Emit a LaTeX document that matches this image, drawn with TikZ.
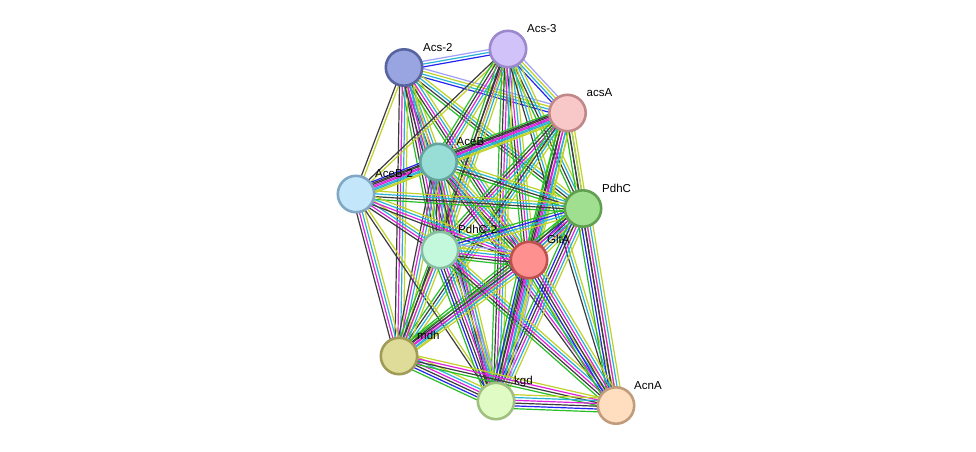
\documentclass[tikz,border=0pt]{standalone}
\usepackage{fontspec}
\setmainfont{Liberation Sans}
\usetikzlibrary{calc}
\definecolor{cT}{RGB}{192,210,40}
\definecolor{cK}{RGB}{60,60,60}
\definecolor{cD}{RGB}{40,178,212}
\definecolor{cE}{RGB}{222,34,222}
\definecolor{cN}{RGB}{40,190,40}
\definecolor{cO}{RGB}{36,36,240}
\definecolor{cH}{RGB}{160,160,248}
\tikzset{
  ln/.style={line width=1.2pt},
  eT/.style={ln,draw=cT}, eK/.style={ln,draw=cK}, eD/.style={ln,draw=cD},
  eE/.style={ln,draw=cE}, eN/.style={ln,draw=cN}, eO/.style={ln,draw=cO},
  eH/.style={ln,draw=cH},
  prot/.style={circle, minimum size=36.4pt, inner sep=0pt, line width=2.6pt},
  lbl/.style={anchor=base west, inner sep=0pt, font=\fontsize{11.5}{13}\selectfont}
}
\newcommand\edg[3]{%
  \xdef\ednn{0}%
  \foreach \ecol in {#3}{\xdef\ednn{\the\numexpr\ednn+1\relax}}%
  \foreach \ecol [count=\ei] in {#3}{%
    \pgfmathsetmacro\edoff{(\ei-(\ednn+1)/2)*2.8}%
    \draw[\ecol] ($(#1)!\edoff pt!90:(#2)$) -- ($(#2)!\edoff pt!-90:(#1)$);
  }%
}
\begin{document}
\begin{tikzpicture}[x=1pt,y=-1pt]
\useasboundingbox[fill=white] (0,0) rectangle (976,451);
\coordinate (cA2) at (404,67.5);
\coordinate (cA3) at (508,49);
\coordinate (caA) at (567.5,113);
\coordinate (cB) at (438.5,162);
\coordinate (cB2) at (356,194);
\coordinate (cP) at (583,208.5);
\coordinate (cP2) at (440,250);
\coordinate (cG) at (529,260);
\coordinate (cM) at (399,356);
\coordinate (cK) at (496,401);
\coordinate (cN) at (616,405.5);
% edges
\edg{cA2}{cA3}{eO,eD,eH}
\edg{cA2}{caA}{eO,eD,eT,eH}
\edg{cA3}{caA}{eO,eD,eT,eH}
\edg{cA2}{cB2}{eK,eT}
\edg{cA2}{cB}{eK,eE,eD,eT}
\edg{cA2}{cP}{eN,eK,eD,eT}
\edg{cA2}{cP2}{eN,eK,eE,eD,eT}
\edg{cA2}{cG}{eN,eK,eE,eD,eT}
\edg{cA2}{cM}{eK,eE,eD,eT}
\edg{cA2}{cK}{eK,eE,eD,eT}
\edg{cA3}{cB2}{eK,eT}
\edg{cA3}{cB}{eN,eK,eE,eD,eT}
\edg{cA3}{cP}{eN,eK,eD,eT}
\edg{cA3}{cP2}{eN,eK,eE,eD,eT}
\edg{cA3}{cG}{eN,eK,eE,eD,eT}
\edg{cA3}{cM}{eK,eT}
\edg{cA3}{cK}{eN,eK,eE,eD,eT}
\edg{cA3}{cN}{eK,eD,eT}
\edg{caA}{cB}{eN,eK,eE,eD,eT}
\edg{caA}{cB2}{eK,eE,eD,eT}
\edg{caA}{cP}{eN,eK,eD,eT}
\edg{caA}{cP2}{eN,eK,eE,eD,eT}
\edg{caA}{cG}{eN,eK,eE,eD,eT}
\edg{caA}{cM}{eN,eK,eD,eT}
\edg{caA}{cK}{eN,eK,eE,eD,eT}
\edg{caA}{cN}{eK,eT}
\edg{cB}{cB2}{eO,eK,eE,eD,eT}
\edg{cB}{cP}{eN,eK,eD,eT}
\edg{cB}{cP2}{eN,eK,eE,eD,eT}
\edg{cB}{cG}{eN,eK,eE,eD,eT}
\edg{cB}{cM}{eK,eE,eD,eT}
\edg{cB}{cK}{eK,eE,eD,eT}
\edg{cB}{cN}{eK,eE,eD,eT}
\edg{cB2}{cP}{eN,eK,eD,eT}
\edg{cB2}{cP2}{eK,eE,eD,eT}
\edg{cB2}{cG}{eK,eE,eD,eT}
\edg{cB2}{cM}{eK,eE,eD,eT}
\edg{cB2}{cK}{eK,eT}
\edg{cP}{cP2}{eN,eO,eD,eT}
\edg{cP}{cG}{eN,eO,eK,eE,eD,eT}
\edg{cP}{cM}{eN,eK,eE,eD,eT}
\edg{cP}{cK}{eN,eO,eK,eE,eD,eT}
\edg{cP}{cN}{eN,eO,eK,eE,eD,eT}
\edg{cP2}{cG}{eN,eK,eE,eD,eT,eH}
\edg{cP2}{cM}{eN,eK,eE,eD,eT}
\edg{cP2}{cK}{eN,eO,eK,eE,eD,eT,eH}
\edg{cP2}{cN}{eN,eK,eE,eD,eT}
\edg{cG}{cM}{eN,eK,eE,eD,eT}
\edg{cG}{cK}{eN,eO,eK,eE,eD,eT,eH}
\edg{cG}{cN}{eN,eO,eK,eE,eD,eT}
\edg{cM}{cK}{eN,eO,eK,eE,eD,eT}
\edg{cM}{cN}{eN,eK,eE,eT}
\edg{cK}{cN}{eN,eO,eK,eE,eD,eT}
% nodes
\node[prot, fill={rgb,255:red,153;green,165;blue,224}, draw={rgb,255:red,88;green,100;blue,160}] (A2) at (cA2) {};
\node[prot, fill={rgb,255:red,210;green,194;blue,250}, draw={rgb,255:red,156;green,136;blue,204}] (A3) at (cA3) {};
\node[prot, fill={rgb,255:red,248;green,200;blue,200}, draw={rgb,255:red,192;green,136;blue,136}] (aA) at (caA) {};
\node[prot, fill={rgb,255:red,152;green,222;blue,214}, draw={rgb,255:red,100;green,164;blue,156}] (B) at (cB) {};
\node[prot, fill={rgb,255:red,196;green,230;blue,250}, draw={rgb,255:red,128;green,168;blue,196}] (B2) at (cB2) {};
\node[prot, fill={rgb,255:red,160;green,222;blue,144}, draw={rgb,255:red,96;green,160;blue,80}] (P) at (cP) {};
\node[prot, fill={rgb,255:red,196;green,248;blue,220}, draw={rgb,255:red,136;green,190;blue,160}] (P2) at (cP2) {};
\node[prot, fill={rgb,255:red,255;green,144;blue,144}, draw={rgb,255:red,192;green,80;blue,80}] (G) at (cG) {};
\node[prot, fill={rgb,255:red,222;green,220;blue,152}, draw={rgb,255:red,160;green,156;blue,88}] (M) at (cM) {};
\node[prot, fill={rgb,255:red,224;green,252;blue,196}, draw={rgb,255:red,160;green,192;blue,128}] (K) at (cK) {};
\node[prot, fill={rgb,255:red,254;green,222;blue,190}, draw={rgb,255:red,192;green,156;blue,124}] (N) at (cN) {};
% labels
\node[lbl] (lA2) at ($(cA2)+(19,-16.5)$) {Acs-2};
\node[lbl] (lA3) at ($(cA3)+(19,-16.5)$) {Acs-3};
\node[lbl] (laA) at ($(caA)+(19,-16.5)$) {acsA};
\node[lbl] (lB) at ($(cB)+(18,-16.5)$) {AceB};
\node[lbl] (lB2) at ($(cB2)+(19,-16.5)$) {AceB-2};
\node[lbl] (lP) at ($(cP)+(19,-16.5)$) {PdhC};
\node[lbl] (lP2) at ($(cP2)+(18,-16.5)$) {PdhC-2};
\node[lbl] (lG) at ($(cG)+(18,-16.5)$) {GltA};
\node[lbl] (lM) at ($(cM)+(18,-16.5)$) {mdh};
\node[lbl] (lK) at ($(cK)+(18,-16.5)$) {kgd};
\node[lbl] (lN) at ($(cN)+(18,-16.5)$) {AcnA};
\end{tikzpicture}
\end{document}
